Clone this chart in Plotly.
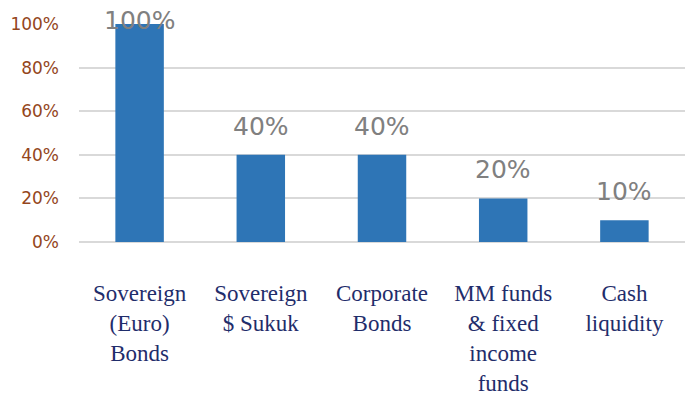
import plotly.graph_objects as go

categories = ["Sovereign<br>(Euro)<br>Bonds", "Sovereign<br>$ Sukuk", "Corporate<br>Bonds",
              "MM funds<br>& fixed<br>income<br>funds", "Cash<br>liquidity"]
values = [1.00, 0.40, 0.40, 0.20, 0.10]
labels = ["100%", "40%", "40%", "20%", "10%"]

fig = go.Figure()
fig.add_trace(go.Bar(x=categories, y=values, marker=dict(color="#2E75B6", line=dict(width=0)),
                     hoverinfo="skip"))

for c, v, t in zip(categories, values, labels):
    fig.add_annotation(x=c, y=v, text=t, showarrow=False, yanchor="bottom",
                       yshift=(12 if v < 0.9 else -13),
                       font=dict(family="DejaVu Sans", size=25, color="#808080"))

fig.update_layout(
    width=688, height=401,
    margin=dict(l=79, r=3, t=24, b=159),
    paper_bgcolor="white", plot_bgcolor="white",
    bargap=0.6, showlegend=False,
    xaxis=dict(showgrid=False, showline=False, ticks="", ticklabelstandoff=35,
               tickfont=dict(family="Liberation Serif", size=23, color="#1F2D6B")),
    yaxis=dict(range=[0, 1], dtick=0.2, tickformat=".0%", showgrid=True,
               gridcolor="#D9D9D9", gridwidth=1.5, zeroline=True, zerolinecolor="#D9D9D9",
               zerolinewidth=1.5, ticks="", ticklabelstandoff=19,
               tickfont=dict(family="DejaVu Sans", size=17, color="#94461C")),
)
fig.write_html("out.html", config={"displayModeBar": False},
               post_script="document.body.style.margin='0';")
